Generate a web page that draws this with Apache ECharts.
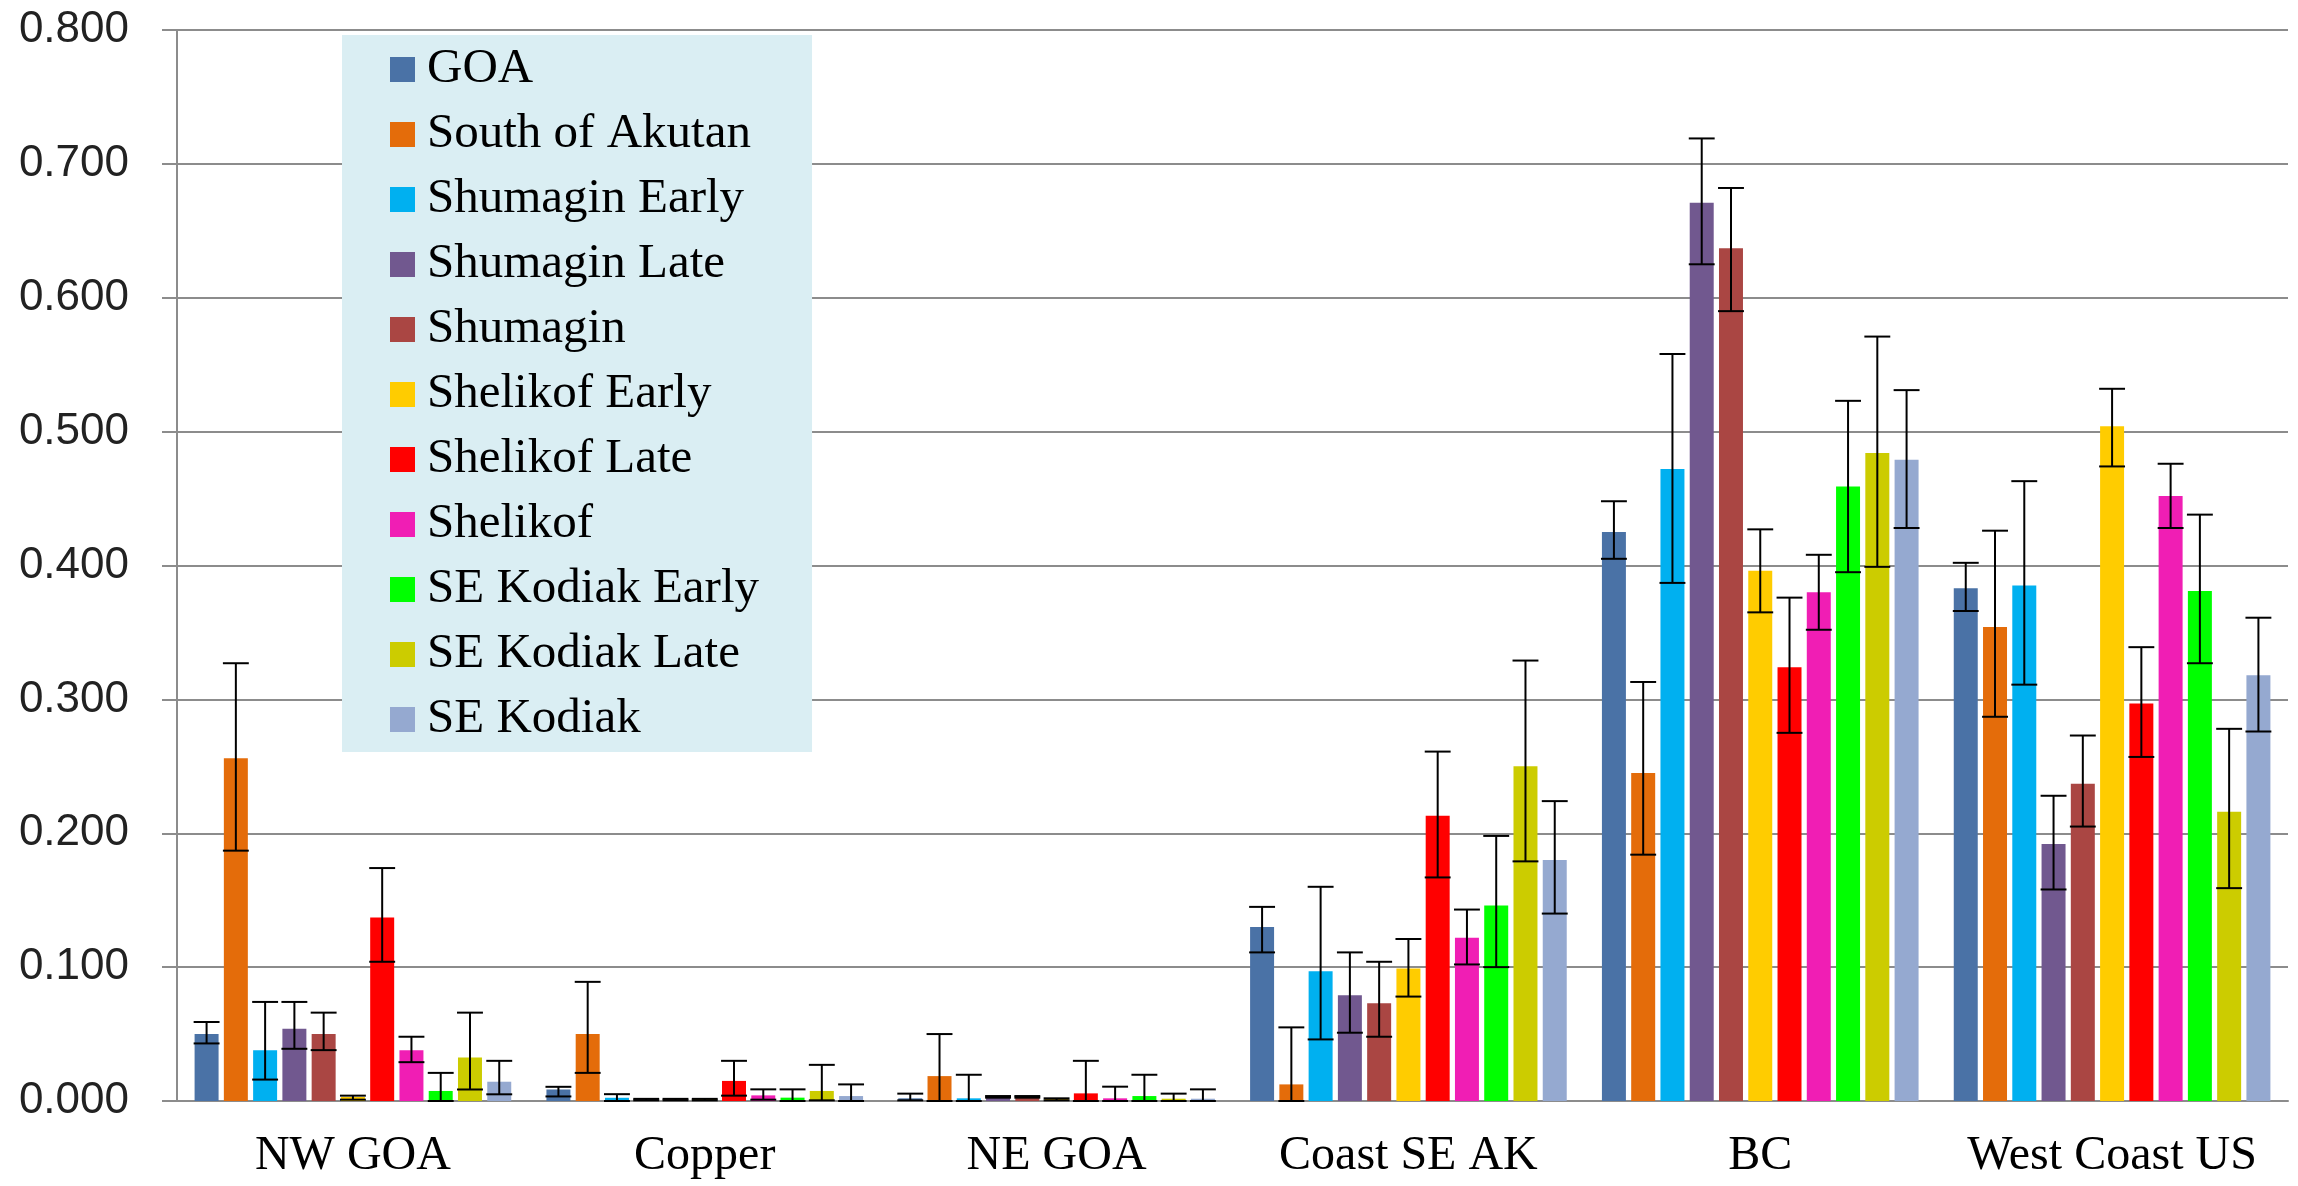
<!DOCTYPE html>
<html>
<head>
<meta charset="utf-8">
<script src="https://cdn.jsdelivr.net/npm/echarts@6/dist/echarts.min.js"></script>
<style>
html,body{margin:0;padding:0;background:#fff;}
#chart{width:2298px;height:1186px;}
</style>
</head>
<body>
<div id="chart"></div>
<script>
// ---- data ----
const categories = ['NW GOA', 'Copper', 'NE GOA', 'Coast SE AK', 'BC', 'West Coast US'];
const seriesNames = ['GOA', 'South of Akutan', 'Shumagin Early', 'Shumagin Late', 'Shumagin',
  'Shelikof Early', 'Shelikof Late', 'Shelikof', 'SE Kodiak Early', 'SE Kodiak Late', 'SE Kodiak'];
const yTicks = [0, 0.1, 0.2, 0.3, 0.4, 0.5, 0.6, 0.7, 0.8];

const goa      = [0.050, 0.0086, 0.002, 0.130, 0.425, 0.383];
const goaLo    = [0.043, 0.0034, 0.0005, 0.111, 0.405, 0.366];
const goaHi    = [0.059, 0.0106, 0.0055, 0.145, 0.448, 0.402];

const akutan   = [0.256, 0.050, 0.0186, 0.0124, 0.245, 0.354];
const akutanLo = [0.187, 0.021, 0, 0, 0.184, 0.287];
const akutanHi = [0.327, 0.089, 0.050, 0.055, 0.313, 0.426];

const shumE    = [0.038, 0.0024, 0.002, 0.097, 0.472, 0.385];
const shumELo  = [0.016, 0, 0, 0.046, 0.387, 0.311];
const shumEHi  = [0.074, 0.0051, 0.0196, 0.160, 0.558, 0.463];

const shumL    = [0.054, 0.0014, 0.0032, 0.079, 0.671, 0.192];
const shumLLo  = [0.039, 0.0005, 0.0025, 0.051, 0.625, 0.158];
const shumLHi  = [0.074, 0.0016, 0.0037, 0.111, 0.719, 0.228];

const shum     = [0.050, 0.0014, 0.0032, 0.073, 0.637, 0.237];
const shumLo   = [0.038, 0.0005, 0.0025, 0.048, 0.590, 0.205];
const shumHi   = [0.066, 0.0016, 0.0037, 0.104, 0.682, 0.273];

const shelE    = [0.003, 0.0014, 0.0017, 0.099, 0.396, 0.504];
const shelELo  = [0.001, 0.0005, 0.0005, 0.078, 0.365, 0.474];
const shelEHi  = [0.004, 0.0016, 0.002, 0.121, 0.427, 0.532];

const shelL    = [0.137, 0.015, 0.0057, 0.213, 0.324, 0.297];
const shelLLo  = [0.104, 0.004, 0, 0.167, 0.275, 0.257];
const shelLHi  = [0.174, 0.030, 0.030, 0.261, 0.376, 0.339];

const shel     = [0.038, 0.0042, 0.002, 0.122, 0.380, 0.452];
const shelLo   = [0.029, 0.001, 0, 0.102, 0.352, 0.428];
const shelHi   = [0.048, 0.0087, 0.0107, 0.143, 0.408, 0.476];

const kodE     = [0.0075, 0.0025, 0.0037, 0.146, 0.459, 0.381];
const kodELo   = [0, 0, 0, 0.100, 0.395, 0.327];
const kodEHi   = [0.021, 0.0087, 0.0196, 0.198, 0.523, 0.438];

const kodL     = [0.0325, 0.0075, 0.0017, 0.250, 0.484, 0.216];
const kodLLo   = [0.0086, 0.0005, 0, 0.179, 0.399, 0.159];
const kodLHi   = [0.066, 0.027, 0.0055, 0.329, 0.571, 0.278];

const kod      = [0.0144, 0.0037, 0.0017, 0.180, 0.479, 0.318];
const kodLo    = [0.005, 0, 0, 0.140, 0.428, 0.276];
const kodHi    = [0.030, 0.0124, 0.0087, 0.224, 0.531, 0.361];

const values = [goa, akutan, shumE, shumL, shum, shelE, shelL, shel, kodE, kodL, kod];
const lows   = [goaLo, akutanLo, shumELo, shumLLo, shumLo, shelELo, shelLLo, shelLo, kodELo, kodLLo, kodLo];
const highs  = [goaHi, akutanHi, shumEHi, shumLHi, shumHi, shelEHi, shelLHi, shelHi, kodEHi, kodLHi, kodHi];

// ---- style ----
const colors = ['#4A72A6', '#E46C0A', '#00B0F0', '#71588F', '#AA4643',
  '#FFCC00', '#FF0000', '#F01EB4', '#00FF00', '#CCCC00', '#95A9D0'];
const CAT_GAP = 0.10;   // barCategoryGap fraction
const BAR_GAP = 0.22;   // barGap fraction
const N = seriesNames.length;

const errData = [];
for (let s = 0; s < N; s++) {
  for (let c = 0; c < categories.length; c++) {
    errData.push([c, lows[s][c], highs[s][c], s]);
  }
}

const series = seriesNames.map((name, i) => ({
  name: name,
  type: 'bar',
  data: values[i],
  itemStyle: { color: colors[i] },
  barCategoryGap: (CAT_GAP * 100) + '%',
  barGap: (BAR_GAP * 100) + '%',
  animation: false
}));

series.push({
  name: 'errors',
  type: 'custom',
  data: errData,
  encode: { x: 0, y: [1, 2] },
  z: 10,
  animation: false,
  renderItem: function (params, api) {
    const c = api.value(0), lo = api.value(1), hi = api.value(2), s = api.value(3);
    const band = api.size([1, 0])[0];
    const group = band * (1 - CAT_GAP);
    const bw = group / (N + (N - 1) * BAR_GAP);
    const cx = api.coord([c, 0])[0] - group / 2 + s * bw * (1 + BAR_GAP) + bw / 2;
    const yLo = api.coord([c, lo])[1];
    const yHi = api.coord([c, hi])[1];
    const hw = bw * 0.54;
    const st = { stroke: '#000', lineWidth: 2 };
    return {
      type: 'group',
      children: [
        { type: 'line', shape: { x1: cx, y1: yLo, x2: cx, y2: yHi }, style: st },
        { type: 'line', shape: { x1: cx - hw, y1: yHi, x2: cx + hw, y2: yHi }, style: st },
        { type: 'line', shape: { x1: cx - hw, y1: yLo, x2: cx + hw, y2: yLo }, style: st }
      ]
    };
  }
});

const chart = echarts.init(document.getElementById('chart'), null, { renderer: 'canvas' });
chart.setOption({
  animation: false,
  backgroundColor: '#fff',
  grid: { left: 177, right: 10, top: 30, bottom: 85 },
  legend: {
    data: seriesNames,
    orient: 'vertical',
    left: 342,
    top: 35,
    backgroundColor: '#DAEEF3',
    padding: [10, 53, 8, 48],
    itemWidth: 25,
    itemHeight: 25,
    itemGap: 16,
    icon: 'rect',
    textStyle: {
      fontFamily: '"Liberation Serif", "Times New Roman", serif',
      fontSize: 49,
      lineHeight: 49,
      color: '#000',
      padding: [0, 0, 0, 7]
    }
  },
  xAxis: {
    type: 'category',
    data: categories,
    axisLine: { show: true, lineStyle: { color: '#8C8C8C', width: 2 } },
    axisTick: { show: false },
    axisLabel: {
      interval: 0,
      margin: 31,
      fontFamily: '"Liberation Serif", "Times New Roman", serif',
      fontSize: 48,
      color: '#000'
    }
  },
  yAxis: {
    type: 'value',
    min: yTicks[0],
    max: yTicks[yTicks.length - 1],
    interval: yTicks[1] - yTicks[0],
    axisLine: { show: true, lineStyle: { color: '#8C8C8C', width: 2 } },
    axisTick: { show: true, length: 15, lineStyle: { color: '#8C8C8C', width: 2 } },
    splitLine: { show: true, lineStyle: { color: '#8C8C8C', width: 2 } },
    axisLabel: {
      margin: 48,
      fontFamily: '"Liberation Sans", Arial, sans-serif',
      fontSize: 44,
      color: '#222',
      formatter: v => v.toFixed(3)
    }
  },
  series: series
});
</script>
</body>
</html>
